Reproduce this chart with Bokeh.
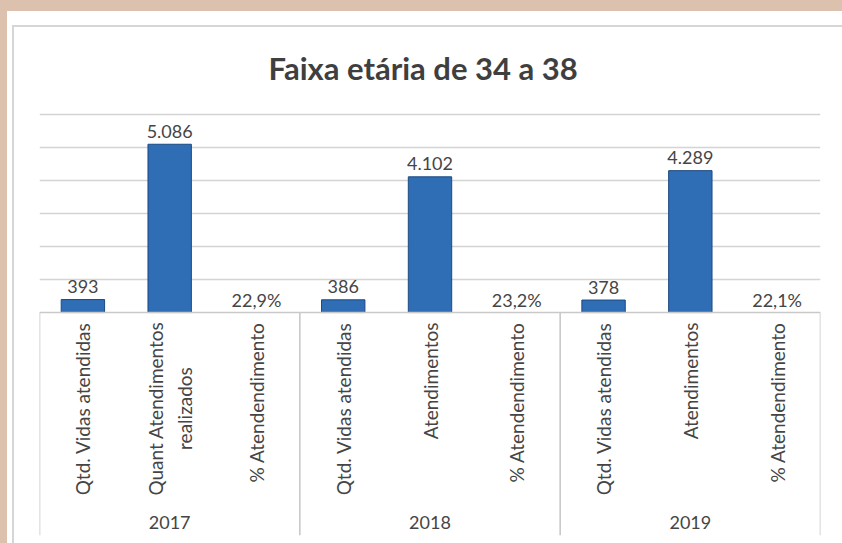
import math
from bokeh.plotting import figure
from bokeh.models import FactorRange, Range1d, FixedTicker, Span, ColumnDataSource, Grid
from bokeh.layouts import column
from bokeh.embed import file_html
from bokeh.resources import INLINE
from bokeh.core.properties import value

# ---------------- data ----------------
title_text = "Faixa etária de 34 a 38"
years = ["2017", "2018", "2019"]
measures = [
    ["Qtd. Vidas atendidas", "Quant Atendimentos\nrealizados", "% Atendendimento"],
    ["Qtd. Vidas atendidas", "Atendimentos", "% Atendendimento"],
    ["Qtd. Vidas atendidas", "Atendimentos", "% Atendendimento"],
]
vidas = [393, 386, 378]
atendimentos = [5086, 4102, 4289]
pct = [0.229, 0.232, 0.221]
grid_ticks = [1000, 2000, 3000, 4000, 5000, 6000]

# ---------------- helpers ----------------
def fmt_int(v):
    return f"{v:,}".replace(",", ".")

def fmt_pct(v):
    return f"{v * 100:.1f}".replace(".", ",") + "%"

factors = []
vals = []
labels = []
is_pct = []
for yi, yr in enumerate(years):
    m = measures[yi]
    for name, v, lab, pc in [
        (m[0], vidas[yi], fmt_int(vidas[yi]), False),
        (m[1], atendimentos[yi], fmt_int(atendimentos[yi]), False),
        (m[2], pct[yi], fmt_pct(pct[yi]), True),
    ]:
        factors.append((yr, name))
        vals.append(v)
        labels.append(lab)
        is_pct.append(pc)

bar_src = ColumnDataSource(dict(
    x=[f for f, p_ in zip(factors, is_pct) if not p_],
    top=[v for v, p_ in zip(vals, is_pct) if not p_],
))
pct_src = ColumnDataSource(dict(
    x=[f for f, p_ in zip(factors, is_pct) if p_],
    top=[v for v, p_ in zip(vals, is_pct) if p_],
))
lab_src = ColumnDataSource(dict(x=factors, y=vals, text=labels))

single = [(f, f[1]) for f in factors if "\n" not in f[1]]
multi = [(f, f[1]) for f in factors if "\n" in f[1]]

TXT = "#454545"
FONT = "Lato"

# ---------------- figure ----------------
x_range = FactorRange(*factors, group_padding=0, factor_padding=0)
y_range = Range1d(-6737, 6257)

p = figure(
    x_range=x_range, y_range=y_range,
    width=828, height=516,
    output_backend="svg", toolbar_location=None,
    x_axis_location=None, y_axis_location=None,
    min_border_left=25, min_border_right=22,
    min_border_top=78, min_border_bottom=8,
    title=title_text,
)
for g in list(p.grid):
    g.visible = False
p.outline_line_color = None
p.background_fill_color = "white"
p.border_fill_color = "white"
p.title.align = "left"
p.title.offset = 229
p.title.text_font = FONT
p.title.text_font_size = "31px"
p.title.text_font_style = "bold"
p.title.text_color = "#3f3f3f"
p.title.standoff = 37
p.styles = {"outline": "2px solid #d6d6d6"}

grid = Grid(dimension=1, ticker=FixedTicker(ticks=grid_ticks),
            grid_line_color="#d4d4d4", grid_line_width=1.6)
p.add_layout(grid)

p.add_layout(Span(location=0, dimension="width", line_color="#c9c9c9", line_width=1.6))

# group separators
n_per = len(measures[0])
bounds = [i * n_per for i in range(len(years) + 1)]
p.segment(x0=bounds, y0=[0] * len(bounds), x1=bounds, y1=[y_range.start] * len(bounds),
          line_color="#c9c9c9", line_width=1.6)

# bars
p.vbar(x="x", top="top", width=0.5, source=bar_src,
       fill_color="#2f6db5", line_color="#1d4a82", line_width=1)
p.vbar(x="x", top="top", width=0.5, source=pct_src,
       fill_color="#2f6db5", line_color=None)

# value labels
p.text(x="x", y="y", text="text", source=lab_src,
       text_align="center", text_baseline="alphabetic", y_offset=-13,
       text_font=value(FONT), text_font_size="18px", text_color=TXT)

# category labels
p.text(x=[f for f, _ in single], y=[0] * len(single), text=[t for _, t in single],
       angle=math.pi / 2, text_align="right", text_baseline="middle", y_offset=10,
       text_font=value(FONT), text_font_size="19px", text_color=TXT)
p.text(x=[f for f, _ in multi], y=[0] * len(multi), text=[t for _, t in multi],
       angle=math.pi / 2, text_align="center", text_baseline="middle", y_offset=96,
       text_line_height=1.25,
       text_font=value(FONT), text_font_size="19px", text_color=TXT)

# year labels
p.text(x=years, y=[0] * len(years), text=years,
       text_align="center", text_baseline="middle", y_offset=210,
       text_font=value(FONT), text_font_size="18px", text_color=TXT)

inner = column(p, styles={"background-color": "white", "padding-left": "7px", "padding-top": "16px"})
outer = column(inner, styles={"background-color": "#dcc1ae", "padding-left": "7px", "padding-top": "11px"})

open("out.html", "w").write(file_html(outer, INLINE))
